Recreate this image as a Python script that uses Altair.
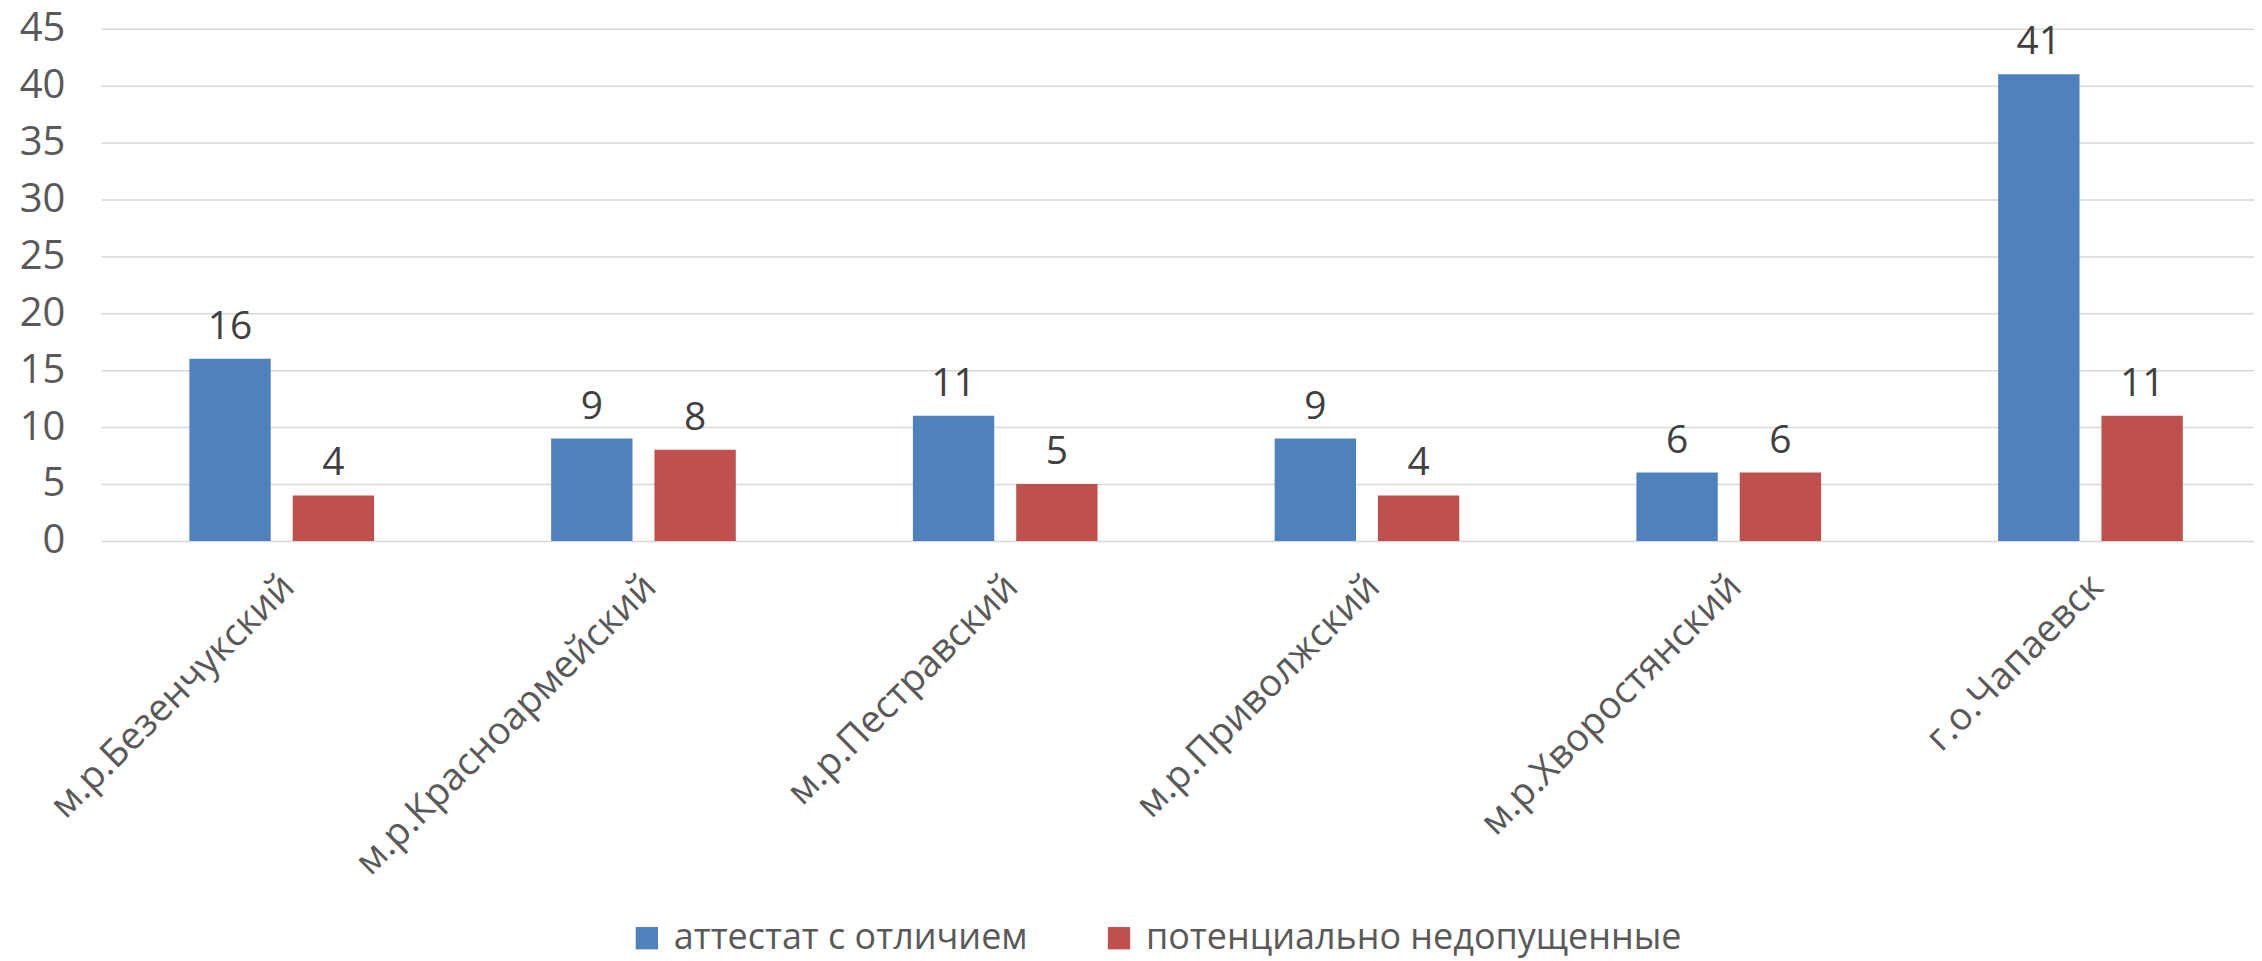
import altair as alt
import pandas as pd

categories = [
    "м.р.Безенчукский",
    "м.р.Красноармейский",
    "м.р.Пестравский",
    "м.р.Приволжский",
    "м.р.Хворостянский",
    "г.о.Чапаевск",
]
series_names = ["аттестат с отличием", "потенциально недопущенные"]
values_attestat = [16, 9, 11, 9, 6, 41]
values_nedopusch = [4, 8, 5, 4, 6, 11]
y_ticks = [0, 5, 10, 15, 20, 25, 30, 35, 40, 45]
colors = ["#4F81BD", "#C0504D"]

rows = []
for c, a, b in zip(categories, values_attestat, values_nedopusch):
    rows.append({"cat": c, "series": series_names[0], "value": a})
    rows.append({"cat": c, "series": series_names[1], "value": b})
df = pd.DataFrame(rows)

FONT = "Open Sans"

x_enc = alt.X(
    "cat:N",
    sort=categories,
    scale=alt.Scale(range=[0, 2174.4], paddingInner=0, paddingOuter=0),
    axis=alt.Axis(
        title=None,
        labelAngle=-45,
        labelAlign="right",
        labelBaseline="middle",
        labelFontSize=38,
        labelFont=FONT,
        labelColor="#595959",
        labelPadding=40,
        labelOffset=7,
        labelLimit=1000,
        domain=False,
        ticks=False,
        tickSize=0,
        grid=False,
    ),
)
y_enc = alt.Y(
    "value:Q",
    scale=alt.Scale(domain=[0, 45], nice=False, zero=True),
    axis=alt.Axis(
        title=None,
        values=y_ticks,
        grid=True,
        gridColor="#D9D9D9",
        gridWidth=1.5,
        domain=False,
        ticks=False,
        tickSize=0,
        labelFontSize=40,
        labelFont=FONT,
        labelColor="#595959",
        labelPadding=36,
    ),
)
xoff = alt.XOffset(
    "series:N",
    sort=series_names,
    scale=alt.Scale(paddingInner=0.2126, paddingOuter=0.857),
)

base = alt.Chart(df).encode(x=x_enc, y=y_enc, xOffset=xoff)

bars = base.mark_bar().encode(
    color=alt.Color(
        "series:N",
        sort=series_names,
        scale=alt.Scale(domain=series_names, range=colors),
        legend=alt.Legend(
            orient="none",
            legendX=529,
            legendY=893,
            direction="horizontal",
            title=None,
            symbolType="square",
            symbolSize=500,
            symbolStrokeWidth=0,
            labelFontSize=36,
            labelFont=FONT,
            labelColor="#595959",
            labelOffset=9,
            labelLimit=2000,
            columnPadding=73,
            padding=0,
        ),
    )
)

labels = base.mark_text(
    dy=-20, baseline="alphabetic", fontSize=39, font=FONT, color="#404040"
).encode(text="value:Q")

chart = (
    alt.layer(bars, labels)
    .properties(
        width=2157,
        height=513,
        padding={"left": 93, "top": 20, "right": 0, "bottom": 420},
        autosize=alt.AutoSizeParams(type="none"),
        background="white",
    )
    .configure_view(stroke=None)
)

chart.save("out.html", embed_options={"renderer": "svg", "actions": False})
